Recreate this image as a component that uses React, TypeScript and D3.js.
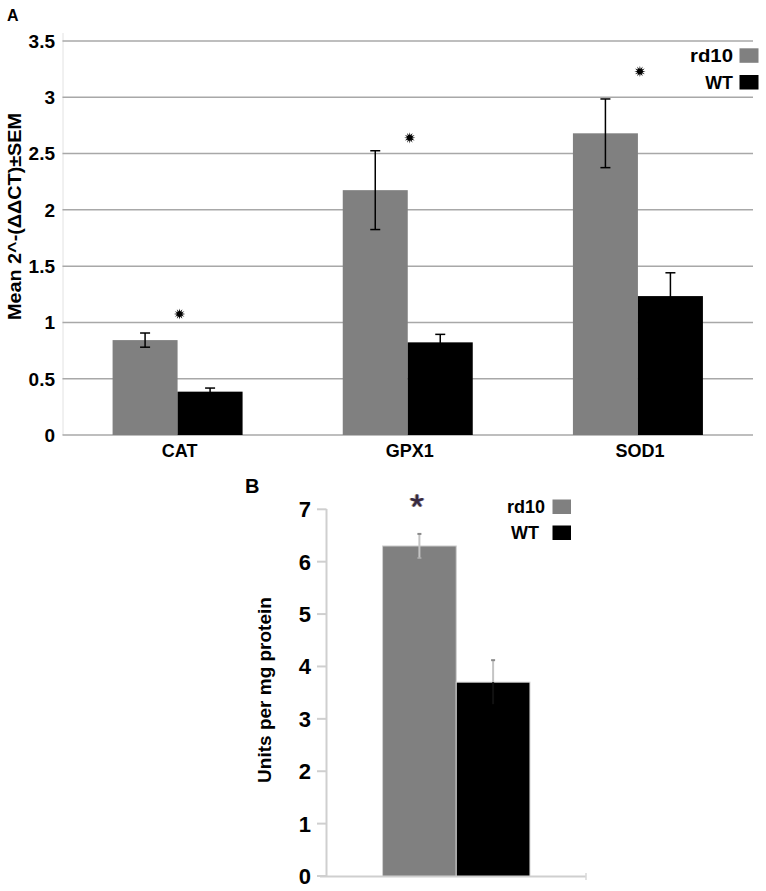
import React from "react";
import * as d3 from "d3";

// ---------- Panel A data ----------
const categoriesA = ["CAT", "GPX1", "SOD1"];
const seriesNames = ["rd10", "WT"];
const rd10MeanA = [0.843, 2.175, 2.68];
const rd10ErrA = [0.063, 0.35, 0.305];
const wtMeanA = [0.385, 0.823, 1.234];
const wtErrA = [0.032, 0.071, 0.207];
const starYA = [1.075, 2.64, 3.23];
const yTicksA = [0, 0.5, 1, 1.5, 2, 2.5, 3, 3.5];

// ---------- Panel B data ----------
const groupsB = ["rd10", "WT"];
const meanB = [6.3, 3.7];
const errB = [0.23, 0.42];
const starYB = 7.16;
const yTicksB = [0, 1, 2, 3, 4, 5, 6, 7];

const COLORS: Record<string, string> = { rd10: "#808080", WT: "#000000" };
const FONT = "'Liberation Sans', Arial, Helvetica, sans-serif";

function burst(rOuter: number, rInner: number, n: number) {
  const pts: [number, number][] = [];
  for (let i = 0; i < n * 2; i++) {
    pts.push([(i * Math.PI) / n, i % 2 === 0 ? rOuter : rInner]);
  }
  return d3.lineRadial().curve(d3.curveLinearClosed)(pts) || "";
}

function PanelA() {
  const x0 = d3.scaleBand<string>().domain(categoriesA).range([62.5, 753]);
  const y = d3.scaleLinear().domain([0, 3.5]).range([435, 41]);
  const barW = 65;
  const bw = x0.bandwidth();
  const po = (bw / barW - 2) / 2;
  const x1 = d3.scaleBand<string>().domain(seriesNames).range([0, bw]).paddingInner(0).paddingOuter(po);
  const means: Record<string, number[]> = { rd10: rd10MeanA, WT: wtMeanA };
  const errs: Record<string, number[]> = { rd10: rd10ErrA, WT: wtErrA };
  const starD = burst(5.6, 2.6, 12);
  return (
    <g fontFamily={FONT} fontWeight="bold">
      <text x={7} y={21} fontSize={16}>A</text>
      <line x1={63} x2={63} y1={33} y2={435} stroke="#e2e2e2" strokeWidth={1} />
      {yTicksA.map((t) => (
        <g key={t}>
          <line x1={62.5} x2={753} y1={y(t)} y2={y(t)} stroke="#a8a8a8" strokeWidth={1.5} />
          <text x={55} y={y(t)} dy="0.36em" textAnchor="end" fontSize={19}>{t}</text>
        </g>
      ))}
      <text
        transform={`translate(21,216.5) rotate(-90)`}
        textAnchor="middle"
        fontSize={19}
        textLength={207}
        lengthAdjust="spacingAndGlyphs"
      >
        Mean 2^-(ΔΔCT)±SEM
      </text>
      {categoriesA.map((c, i) => (
        <g key={c} transform={`translate(${x0(c)},0)`}>
          {seriesNames.map((s) => {
            const v = means[s][i];
            const e = errs[s][i];
            const bx = x1(s)!;
            const cx = bx + x1.bandwidth() / 2;
            return (
              <g key={s}>
                <rect x={bx} y={y(v)} width={x1.bandwidth()} height={y(0) - y(v)} fill={COLORS[s]} />
                <line x1={cx} x2={cx} y1={y(v + e)} y2={y(v - e)} stroke="#000" strokeWidth={1.5} />
                <line x1={cx - 5} x2={cx + 5} y1={y(v + e)} y2={y(v + e)} stroke="#000" strokeWidth={1.5} />
                <line x1={cx - 5} x2={cx + 5} y1={y(v - e)} y2={y(v - e)} stroke="#000" strokeWidth={1.5} />
              </g>
            );
          })}
          <path d={starD} transform={`translate(${bw / 2 + 2},${y(starYA[i])})`} fill="#000" />
          <text x={bw / 2 + 2} y={457} textAnchor="middle" fontSize={18}>{c}</text>
        </g>
      ))}
      {seriesNames.map((s, i) => (
        <g key={s} transform={`translate(0,${i * 26.7})`}>
          <text
            x={733}
            y={55.5}
            dy="0.36em"
            textAnchor="end"
            fontSize={18}
            textLength={s === "rd10" ? 43 : 27.7}
            lengthAdjust="spacingAndGlyphs"
          >
            {s}
          </text>
          <rect x={739.5} y={48.3} width={19} height={14.5} fill={COLORS[s]} />
        </g>
      ))}
    </g>
  );
}

function PanelB() {
  const x0 = d3.scaleBand<string>().domain(["all"]).range([326.5, 586]);
  const y = d3.scaleLinear().domain([0, 7]).range([876, 509.3]);
  const barW = 73.7;
  const bw = x0.bandwidth();
  const po = (bw / barW - 2) / 2;
  const x1 = d3.scaleBand<string>().domain(groupsB).range([x0("all")!, x0("all")! + bw]).paddingOuter(po);
  const cxStar = x1("rd10")! + x1.bandwidth() / 2 - 2.5;
  const sy = y(starYB);
  const arms = d3.range(5).map((k) => (k * 2 * Math.PI) / 5);
  const starArms = (dx: number, color: string, op: number) =>
    arms.map((a, k) => (
      <line
        key={`${color}${k}`}
        x1={cxStar + dx}
        y1={sy}
        x2={cxStar + dx + 5.5 * Math.sin(a)}
        y2={sy - 5.5 * Math.cos(a)}
        stroke={color}
        strokeWidth={2.5}
        strokeLinecap="round"
        opacity={op}
      />
    ));
  return (
    <g fontFamily={FONT} fontWeight="bold">
      <text x={245} y={493} fontSize={20}>B</text>
      <line x1={326.5} x2={326.5} y1={509} y2={876} stroke="#cfcfcf" strokeWidth={2} />
      <line x1={320} x2={586} y1={876.5} y2={876.5} stroke="#cfcfcf" strokeWidth={2} />
      <line x1={586} x2={586} y1={873} y2={880} stroke="#d8d8d8" strokeWidth={1.5} />
      {yTicksB.map((t) => (
        <g key={t}>
          <line x1={317} x2={326.5} y1={y(t)} y2={y(t)} stroke="#cfcfcf" strokeWidth={2} />
          <text x={311} y={y(t)} dy="0.36em" textAnchor="end" fontSize={22}>{t}</text>
        </g>
      ))}
      <text transform={`translate(270.5,690) rotate(-90)`} textAnchor="middle" fontSize={19}>
        Units per mg protein
      </text>
      {groupsB.map((g, i) => {
        const v = meanB[i];
        const e = errB[i];
        const bx = x1(g)!;
        const cx = bx + x1.bandwidth() / 2;
        const inner = g === "WT" ? "#111" : "#c4c4c4";
        return (
          <g key={g}>
            <rect
              x={bx}
              y={y(v)}
              width={x1.bandwidth()}
              height={y(0) - y(v)}
              fill={COLORS[g]}
              stroke="#d0d0d0"
              strokeWidth={1}
            />
            <line x1={cx} x2={cx} y1={y(v + e)} y2={y(v)} stroke="#c4c4c4" strokeWidth={2} />
            <line x1={cx} x2={cx} y1={y(v)} y2={y(v - e)} stroke={inner} strokeWidth={2} />
            <line x1={cx - 2} x2={cx + 2} y1={y(v + e)} y2={y(v + e)} stroke="#8a8a8a" strokeWidth={2} />
            {g !== "WT" && (
              <line x1={cx - 2} x2={cx + 2} y1={y(v - e)} y2={y(v - e)} stroke="#b0b0b0" strokeWidth={1.5} />
            )}
          </g>
        );
      })}
      {starArms(-1, "#d9902a", 0.7)}
      {starArms(1, "#2f6fd6", 0.7)}
      {starArms(0, "#3a2a40", 1)}
      {groupsB.map((s, i) => (
        <g key={s} transform={`translate(0,${i * 26})`}>
          <text
            x={s === "rd10" ? 545 : 539}
            y={507}
            dy="0.36em"
            textAnchor="end"
            fontSize={18}
          >
            {s}
          </text>
          <rect x={552.5} y={499.5} width={18.5} height={14.5} fill={COLORS[s]} />
        </g>
      ))}
    </g>
  );
}

export default function App() {
  return (
    <svg
      width={766}
      height={891}
      viewBox="0 0 766 891"
      style={{ position: "absolute", left: 0, top: 0, background: "#fff" }}
    >
      <rect width={766} height={891} fill="#fff" />
      <PanelA />
      <PanelB />
    </svg>
  );
}
